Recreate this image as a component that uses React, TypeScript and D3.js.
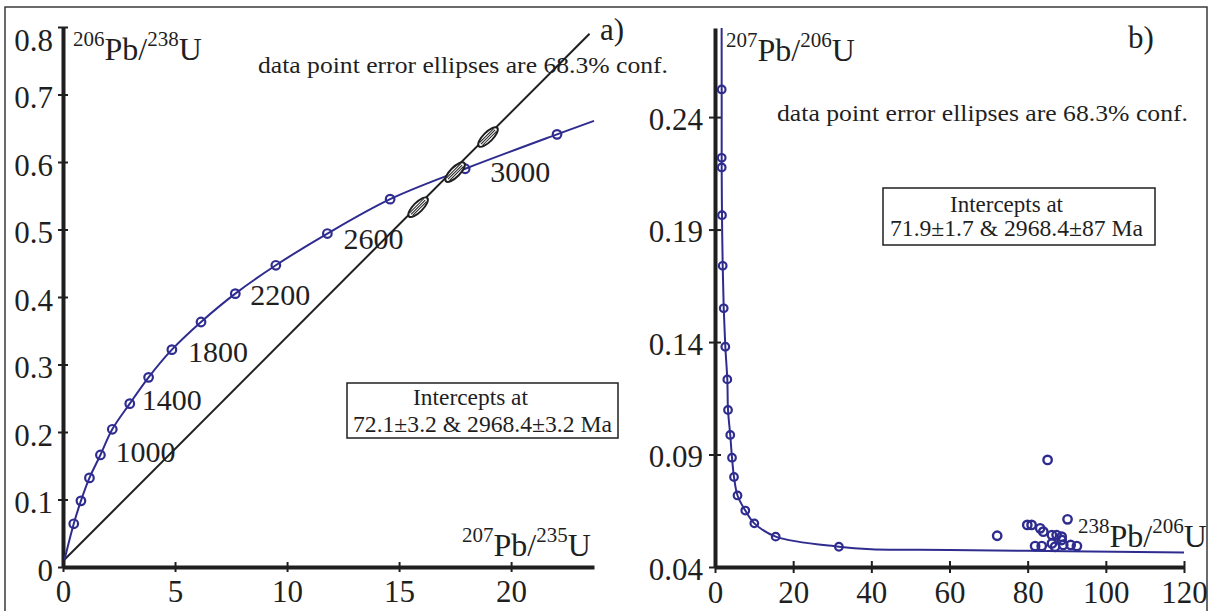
import React, { useEffect, useRef } from "react";
import * as d3 from "d3";

const ink = "#1f1f1f";
const blue = "#2f2c8f";
const serif = "'Liberation Serif', 'Times New Roman', serif";

// a) Wetherill concordia, one mark every 200 Ma
const concAges = [400, 600, 800, 1000, 1200, 1400, 1600, 1800, 2000, 2200, 2400, 2600, 2800, 3000, 3200];
const concX = [0.48, 0.8, 1.18, 1.67, 2.2, 2.98, 3.82, 4.86, 6.16, 7.69, 9.5, 11.8, 14.6, 17.95, 22.05];
const concY = [0.064, 0.098, 0.132, 0.166, 0.204, 0.242, 0.281, 0.322, 0.363, 0.405, 0.447, 0.494, 0.545, 0.59, 0.641];
const concLabelled = [1000, 1400, 1800, 2200, 2600, 3000];
const concStart = [0.07, 0.011];
const concEnd = [23.7, 0.661];
const discordia = [
  [0.07, 0.011],
  [23.5, 0.79],
];
const ellipseX = [15.85, 17.5, 18.97];
const ellipseY = [0.533, 0.585, 0.637];
const xTicksA = [0, 5, 10, 15, 20];
const yTicksA = [0, 0.1, 0.2, 0.3, 0.4, 0.5, 0.6, 0.7, 0.8];

// b) Tera-Wasserburg plot
const twX = [1.71, 1.71, 1.71, 1.79, 1.97, 2.23, 2.64, 3.15, 3.33, 3.9, 4.35, 4.86, 5.76, 7.75, 10.06, 15.53, 31.7];
const twY = [0.2523, 0.2219, 0.2176, 0.1964, 0.1739, 0.155, 0.1379, 0.1234, 0.1098, 0.0987, 0.0886, 0.08, 0.0718, 0.0651, 0.0594, 0.0535, 0.049];
const twTop = [1.7, 0.2796];
const twTailX = [40, 60, 90, 120];
const twTailY = [0.0479, 0.0476, 0.047, 0.0464];
const sampleX = [72.2, 85.1, 90.2, 79.9, 81.0, 83.2, 84.0, 86.2, 87.4, 88.7, 88.7, 86.2, 81.9, 83.6, 87.0, 89.1, 91.0, 92.6];
const sampleY = [0.0539, 0.0876, 0.0612, 0.0587, 0.0587, 0.0572, 0.0557, 0.0542, 0.0542, 0.0535, 0.052, 0.0505, 0.0493, 0.0493, 0.049, 0.0498, 0.0498, 0.0493];
const xTicksB = [0, 20, 40, 60, 80, 100, 120];
const yTicksB = [0.04, 0.09, 0.14, 0.19, 0.24];

function isoLabel(g, x, y, parts) {
  // parts: [text, isSuperscript]
  const t = g
    .append("text")
    .attr("x", x)
    .attr("y", y)
    .attr("font-family", serif)
    .attr("fill", ink);
  let up = false;
  parts.forEach(([s, sup]) => {
    const dy = sup && !up ? -14 : !sup && up ? 14 : 0;
    up = sup;
    t.append("tspan")
      .attr("dy", dy)
      .attr("font-size", sup ? 21 : 32)
      .text(s);
  });
}

function styleAxis(g, vertical, tick) {
  g.attr("font-family", serif).attr("font-size", 31).attr("color", ink);
  g.select(".domain").attr("stroke-width", 4);
  g.selectAll(".tick line").attr("stroke-width", 2);
  if (vertical) g.selectAll(".tick line").attr("x1", tick).attr("x2", -tick);
  else g.selectAll(".tick line").attr("y1", -tick).attr("y2", tick);
}

function Concordia() {
  const svgRef = useRef(null);

  useEffect(() => {
    const svg = d3.select(svgRef.current);
    svg.selectAll("*").remove();

    svg
      .append("rect")
      .attr("x", 5)
      .attr("y", 7)
      .attr("width", 1202)
      .attr("height", 660)
      .attr("fill", "none")
      .attr("stroke", "#3a3a3a")
      .attr("stroke-width", 1.5);

    // ---------- panel a ----------
    const xA = d3.scaleLinear().domain([0, 23.7]).range([63, 594]);
    const yA = d3.scaleLinear().domain([0, 0.8]).range([567, 27]);

    const ax = svg
      .append("g")
      .attr("transform", `translate(0,${yA(0)})`)
      .call(d3.axisBottom(xA).tickValues(xTicksA).tickSizeInner(5).tickSizeOuter(0).tickPadding(8));
    styleAxis(ax, false, 5);

    const ay = svg
      .append("g")
      .attr("transform", `translate(${xA(0)},0)`)
      .call(
        d3
          .axisLeft(yA)
          .tickValues(yTicksA)
          .tickSizeInner(5)
          .tickSizeOuter(0)
          .tickPadding(5)
          .tickFormat((d) => (d === 0 ? "0" : d3.format(".1f")(d)))
      );
    styleAxis(ay, true, 5);
    ay.selectAll(".tick text").attr("dy", (d) => (d === 0.8 ? "0.76em" : "0.42em"));

    // discordia
    const lineA = d3
      .line()
      .x((d) => xA(d[0]))
      .y((d) => yA(d[1]));
    svg
      .append("path")
      .attr("d", lineA(discordia))
      .attr("fill", "none")
      .attr("stroke", ink)
      .attr("stroke-width", 2);

    // concordia
    const concPts = concX.map((x, i) => [x, concY[i]]);
    svg
      .append("path")
      .attr("d", lineA.curve(d3.curveCatmullRom.alpha(0.5))([concStart, ...concPts, concEnd]))
      .attr("fill", "none")
      .attr("stroke", blue)
      .attr("stroke-width", 2);

    svg
      .append("g")
      .selectAll("circle")
      .data(concPts)
      .join("circle")
      .attr("cx", (d) => xA(d[0]))
      .attr("cy", (d) => yA(d[1]))
      .attr("r", 4.3)
      .attr("fill", "none")
      .attr("stroke", blue)
      .attr("stroke-width", 2.2);

    const labelOffset = {
      1000: [15, 7],
      1400: [12, 6],
      1800: [16, 12],
      2200: [15, 11],
      2600: [16, 15],
      3000: [25, 13],
    };
    concAges.forEach((age, i) => {
      if (!concLabelled.includes(age)) return;
      const [dx, dy] = labelOffset[age];
      svg
        .append("text")
        .attr("x", xA(concX[i]) + dx)
        .attr("y", yA(concY[i]) + dy)
        .attr("font-family", serif)
        .attr("font-size", 30)
        .attr("fill", ink)
        .text(age);
    });

    // error ellipses on discordia
    const angle =
      (Math.atan2(
        yA(discordia[1][1]) - yA(discordia[0][1]),
        xA(discordia[1][0]) - xA(discordia[0][0])
      ) *
        180) /
      Math.PI;
    ellipseX.forEach((x, i) => {
      const e = svg
        .append("g")
        .attr("transform", `translate(${xA(x)},${yA(ellipseY[i])}) rotate(${angle})`);
      e.append("ellipse")
        .attr("rx", 13)
        .attr("ry", 4.8)
        .attr("fill", "white")
        .attr("stroke", ink)
        .attr("stroke-width", 2);
      [-2, 0, 2].forEach((o) =>
        e
          .append("line")
          .attr("x1", -10)
          .attr("x2", 10)
          .attr("y1", o)
          .attr("y2", o)
          .attr("stroke", ink)
          .attr("stroke-width", 1)
      );
    });

    isoLabel(svg, 73, 60, [
      ["206", true],
      ["Pb/", false],
      ["238", true],
      ["U", false],
    ]);
    isoLabel(svg, 462, 556, [
      ["207", true],
      ["Pb/", false],
      ["235", true],
      ["U", false],
    ]);

    const note = (x, y, s, len, size) => {
      const t = svg
        .append("text")
        .attr("x", x)
        .attr("y", y)
        .attr("font-family", serif)
        .attr("font-size", size)
        .attr("fill", ink)
        .text(s);
      if (len) t.attr("textLength", len).attr("lengthAdjust", "spacingAndGlyphs");
      return t;
    };

    note(258, 73, "data point error ellipses are 68.3% conf.", 410, 24);
    note(600, 40, "a)", null, 31);

    svg
      .append("rect")
      .attr("x", 347)
      .attr("y", 383)
      .attr("width", 271)
      .attr("height", 55)
      .attr("fill", "white")
      .attr("stroke", ink)
      .attr("stroke-width", 1.5);
    note(413, 405, "Intercepts at", 115, 24);
    note(353, 432, "72.1\u00b13.2 & 2968.4\u00b13.2 Ma", 259, 24);

    // ---------- panel b ----------
    const xB = d3.scaleLinear().domain([0, 120]).range([715, 1184]);
    const yB = d3.scaleLinear().domain([0.04, 0.2796]).range([567, 28]);

    const bx = svg
      .append("g")
      .attr("transform", `translate(0,${yB(0.04)})`)
      .call(d3.axisBottom(xB).tickValues(xTicksB).tickSizeInner(6).tickSizeOuter(0).tickPadding(8));
    styleAxis(bx, false, 6);

    const by = svg
      .append("g")
      .attr("transform", `translate(${xB(0)},0)`)
      .call(
        d3
          .axisLeft(yB)
          .tickValues(yTicksB)
          .tickSizeInner(6)
          .tickSizeOuter(0)
          .tickPadding(6)
          .tickFormat(d3.format(".2f"))
      );
    styleAxis(by, true, 6);
    by.selectAll(".tick text").attr("dy", "0.4em");

    const lineB = d3
      .line()
      .x((d) => xB(d[0]))
      .y((d) => yB(d[1]))
      .curve(d3.curveCatmullRom.alpha(0.5));
    const twPts = twX.map((x, i) => [x, twY[i]]);
    const tail = twTailX.map((x, i) => [x, twTailY[i]]);
    svg
      .append("path")
      .attr("d", lineB([twTop, ...twPts, ...tail]))
      .attr("fill", "none")
      .attr("stroke", blue)
      .attr("stroke-width", 2);

    svg
      .append("g")
      .selectAll("circle")
      .data(twPts)
      .join("circle")
      .attr("cx", (d) => xB(d[0]))
      .attr("cy", (d) => yB(d[1]))
      .attr("r", 3.8)
      .attr("fill", "none")
      .attr("stroke", blue)
      .attr("stroke-width", 2.2);

    svg
      .append("g")
      .selectAll("circle")
      .data(sampleX.map((x, i) => [x, sampleY[i]]))
      .join("circle")
      .attr("cx", (d) => xB(d[0]))
      .attr("cy", (d) => yB(d[1]))
      .attr("r", 4.2)
      .attr("fill", "none")
      .attr("stroke", blue)
      .attr("stroke-width", 2.4);

    isoLabel(svg, 726, 61, [
      ["207", true],
      ["Pb/", false],
      ["206", true],
      ["U", false],
    ]);
    isoLabel(svg, 1078, 547, [
      ["238", true],
      ["Pb/", false],
      ["206", true],
      ["U", false],
    ]);

    note(777, 121, "data point error ellipses are 68.3% conf.", 411, 24);
    note(1128, 48, "b)", null, 31);

    svg
      .append("rect")
      .attr("x", 883)
      .attr("y", 188)
      .attr("width", 272)
      .attr("height", 57)
      .attr("fill", "white")
      .attr("stroke", ink)
      .attr("stroke-width", 1.5);
    note(950, 212, "Intercepts at", 113, 24);
    note(890, 236, "71.9\u00b11.7 & 2968.4\u00b187 Ma", 253, 24);
  }, []);

  return (
    <div style={{ position: "absolute", left: 0, top: 0, background: "white" }}>
      <svg ref={svgRef} width={1214} height={611} style={{ display: "block" }} />
    </div>
  );
}

export default function App() {
  return <Concordia />;
}
